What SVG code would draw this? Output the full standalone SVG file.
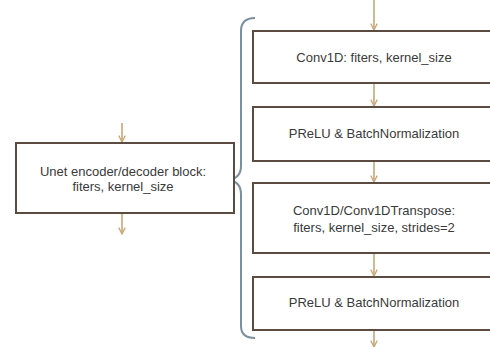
<svg xmlns="http://www.w3.org/2000/svg" width="490" height="347" viewBox="0 0 490 347">
  <defs>
    <style>
      .box { fill: #ffffff; stroke: #5c4b41; stroke-width: 2; }
      .lbl { font-family: "Liberation Sans", Arial, sans-serif; font-size: 13px; fill: #3a3a3a; text-anchor: middle; }
      .flow { stroke: #c8a677; stroke-width: 1.6; fill: none; marker-end: url(#head); }
      .brace { stroke: #7b8f9c; stroke-width: 2; fill: none; }
    </style>
    <marker id="head" viewBox="0 0 10 10" refX="9" refY="5" markerWidth="8" markerHeight="8" markerUnits="userSpaceOnUse" orient="auto">
      <path d="M1,1 L9,5 L1,9" fill="none" stroke="#c8a677" stroke-width="1.6"/>
    </marker>
  </defs>
  <rect width="490" height="347" fill="#ffffff"/>

  <g id="connectors">
    <line class="flow" x1="122" y1="123" x2="122" y2="142"/>
    <line class="flow" x1="122" y1="214" x2="122" y2="234"/>
    <line class="flow" x1="374" y1="0" x2="374" y2="30"/>
    <line class="flow" x1="374" y1="84" x2="374" y2="106"/>
    <line class="flow" x1="374" y1="162" x2="374" y2="182"/>
    <line class="flow" x1="374" y1="254" x2="374" y2="276"/>
    <line class="flow" x1="374" y1="331" x2="374" y2="347"/>
  </g>

  <g id="brace">
    <path class="brace" d="M255,18 Q241,18 241,31 L241,166 Q241,178 229,180 Q241,182 241,194 L241,326 Q241,338 255,338"/>
  </g>

  <g id="unet-block">
    <rect class="box" x="16" y="143" width="218" height="70"/>
    <text class="lbl" x="123" y="176">Unet encoder/decoder block:</text>
    <text class="lbl" x="123" y="191">fiters, kernel_size</text>
  </g>

  <g id="conv1d">
    <rect class="box" x="253" y="31" width="243" height="52"/>
    <text class="lbl" x="374" y="61.5">Conv1D: fiters, kernel_size</text>
  </g>

  <g id="prelu-bn-1">
    <rect class="box" x="253" y="107" width="243" height="54"/>
    <text class="lbl" x="374" y="138">PReLU &amp; BatchNormalization</text>
  </g>

  <g id="conv1d-transpose">
    <rect class="box" x="253" y="183" width="243" height="70"/>
    <text class="lbl" x="374" y="215">Conv1D/Conv1DTranspose:</text>
    <text class="lbl" x="374" y="231.5">fiters, kernel_size, strides=2</text>
  </g>

  <g id="prelu-bn-2">
    <rect class="box" x="253" y="277" width="243" height="53"/>
    <text class="lbl" x="374" y="306.5">PReLU &amp; BatchNormalization</text>
  </g>
</svg>
